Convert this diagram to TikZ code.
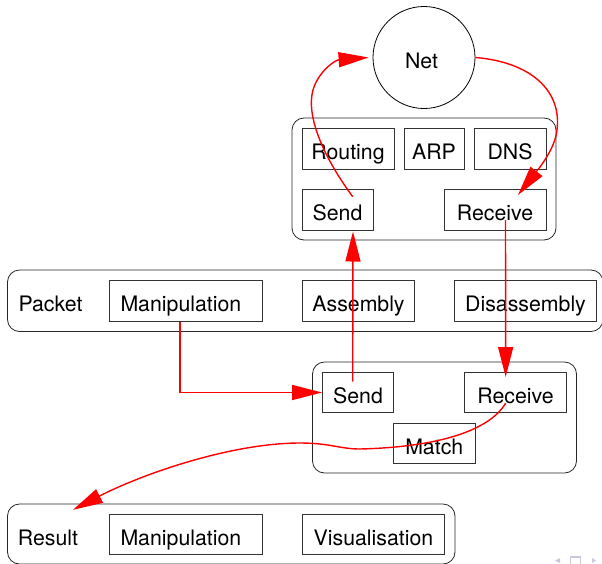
\documentclass[tikz,border=0pt]{standalone}
\usepackage{fontspec}
\setmainfont{TeX Gyre Heros}
\usetikzlibrary{arrows.meta,calc}

\tikzset{
  grp/.style={draw=black!85, line width=0.8pt, rounded corners=12pt, inner sep=0pt},
  blk/.style={draw=black!80, line width=0.8pt, inner sep=0pt, text height=22pt, text depth=0pt, minimum height=41pt},
  wideblk/.style={blk, text width=130.5pt, align=left, inner xsep=11pt},
  lbl/.style={inner sep=0pt, text height=22pt, text depth=0pt},
  flow/.style={draw=red, line width=1.4pt, -{Triangle[length=30pt,width=15pt]}},
  navsym/.style={fill={rgb,255:red,200;green,200;blue,222}, draw=none},
}

\begin{document}
\begin{tikzpicture}[x=1pt,y=-1pt,font=\fontsize{21.3}{25}\selectfont]
  \useasboundingbox (0,0) rectangle (602,563);
  %Shape: Circle [id:net]
  \node [draw, circle, line width=0.8pt, minimum size=102pt, inner sep=0pt, text width=38pt, align=left, text height=22pt, text depth=0pt] (net) at (424,57.5) {Net};

  %Group: network layer
  \node [grp, minimum width=264pt, minimum height=122pt] (netgrp) at (424,179) {};
  \node [blk, minimum width=92pt] (routing) at (348,148.5) {Routing};
  \node [blk, minimum width=60pt] (arp) at (434,148.5) {ARP};
  \node [blk, minimum width=72pt] (dns) at (510,148.5) {DNS};
  \node [blk, minimum width=71pt] (netsend) at (337.5,209.5) {Send};
  \node [blk, minimum width=102pt] (netrecv) at (495,209.5) {Receive};

  %Group: packet
  \node [grp, minimum width=595.5pt, minimum height=61.5pt] (pktgrp) at (305.25,300.75) {};
  % Text Node
  \node [lbl] (pktlbl) at (50.5,300.75) {Packet};
  \node [wideblk] (pktmanip) at (185.75,300.75) {Manipulation};
  \node [blk, minimum width=112pt] (pktasm) at (358.5,300.75) {Assembly};
  \node [blk, minimum width=142pt] (pktdisasm) at (525.5,300.75) {Disassembly};

  %Group: send / receive
  \node [grp, minimum width=264pt, minimum height=111pt] (iogrp) at (444.5,417.5) {};
  \node [blk, minimum width=71pt, minimum height=40pt] (iosend) at (358,392.5) {Send};
  \node [blk, minimum width=102pt, minimum height=40pt] (iorecv) at (515.5,392.5) {Receive};
  \node [blk, minimum width=81.5pt, minimum height=40.5pt] (match) at (434.25,443.25) {Match};

  %Group: result
  \node [grp, minimum width=447.5pt, minimum height=60pt] (resgrp) at (231.25,534) {};
  % Text Node
  \node [lbl] (reslbl) at (48,534) {Result};
  \node [wideblk, minimum height=40pt] (resmanip) at (185.75,534) {Manipulation};
  \node [blk, minimum width=142pt, minimum height=40pt] (resvis) at (373.5,534) {Visualisation};

  %Edges
  \draw [flow] ($(netsend.center)+(15.2,-12.8)$) .. controls (322,155) and (306,115) .. (313,90) .. controls (318,72) and (335,60) .. ($(net.west)+(-4,0)$);
  \draw [flow] (net.east) .. controls (530,62) and (562,90) .. (557,130) .. controls (555,150) and (536,172) .. ($(netrecv.center)+(23,-14.5)$);
  \draw [flow] ($(netrecv.center)+(10.5,10.5)$) -- ($(iorecv.center)+(-9.8,-15.5)$);
  \draw [flow] ($(iosend.center)+(-5.3,-10.8)$) -- ($(netsend.center)+(15.5,22)$);
  \draw [flow] ($(pktmanip.south)+(-5.7,0)$) |- (iosend.west);
  \draw [flow] ($(iorecv.center)+(-9.8,10.5)$) .. controls (490,430) and (440,447) .. (360,449) .. controls (340,449) and (330,443) .. (300,443) .. controls (230,443) and (140,475) .. ($(reslbl.north)+(25,-13)$);

  %Shape: navigation symbols
  \path [navsym] (555,560.5) -- (560,558) -- (560,563) -- cycle;
  \draw [draw={rgb,255:red,200;green,200;blue,222}, line width=1.2pt] (570.5,557) rectangle (580.5,566);
  \path [navsym] (596,560.5) -- (592,558) -- (592,563) -- cycle;
\end{tikzpicture}
\end{document}
